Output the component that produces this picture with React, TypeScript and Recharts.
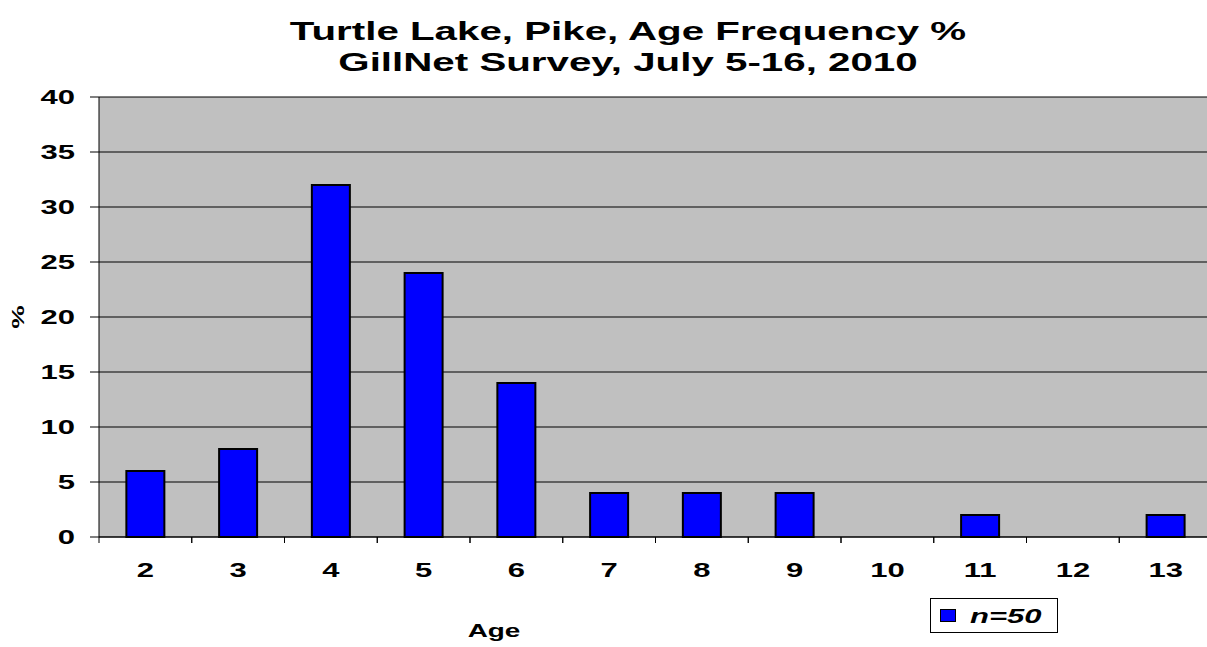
import React from 'react';
import { BarChart, Bar, XAxis, YAxis, CartesianGrid, Legend } from 'recharts';

const ages = ['2', '3', '4', '5', '6', '7', '8', '9', '10', '11', '12', '13'];
const percents = [6, 8, 32, 24, 14, 4, 4, 4, 0, 2, 0, 2];
const pctTicks = [0, 5, 10, 15, 20, 25, 30, 35, 40];
const titleLines = ['Turtle Lake, Pike, Age Frequency %', 'GillNet Survey, July 5-16, 2010'];
const seriesName = 'n=50';
const xTitle = 'Age';
const yTitle = '%';

const data = ages.map((age, i) => ({ age, pct: percents[i] }));

const FONT = '"Liberation Sans", Arial, Helvetica, sans-serif';
// the old spreadsheet export renders its text noticeably wide
const STRETCH = 1.55;

function WideText({ x, y, size, anchor = 'middle', rotate = 0, children }: any) {
  const rot = rotate ? ` rotate(${rotate})` : '';
  return (
    <text
      transform={`translate(${x},${y})${rot} scale(${STRETCH},1)`}
      textAnchor={anchor}
      fontFamily={FONT}
      fontWeight="bold"
      fontSize={size}
      fill="#000"
    >
      {children}
    </text>
  );
}

// category labels plus the tick marks between categories
function AgeTick(props: any) {
  const { x, y, payload, width, visibleTicksCount } = props;
  const half = payload.offset || width / visibleTicksCount / 2;
  return (
    <g>
      <line x1={x - half} x2={x - half} y1={y} y2={y + 6} stroke="#000" />
      <line x1={x + half} x2={x + half} y1={y} y2={y + 6} stroke="#000" />
      <WideText x={x} y={y + 40} size={20}>{payload.value}</WideText>
    </g>
  );
}

function PctTick(props: any) {
  const { x, y, payload } = props;
  return <WideText x={x} y={y + 7} size={20} anchor="end">{payload.value}</WideText>;
}

function SeriesKey({ payload }: any) {
  const item = payload && payload[0];
  return (
    <div
      style={{
        boxSizing: 'border-box',
        width: 128,
        height: 35,
        border: '1px solid #000',
        background: '#fff',
        display: 'flex',
        alignItems: 'center',
        paddingLeft: 9,
      }}
    >
      <span
        style={{
          boxSizing: 'border-box',
          width: 16,
          height: 13,
          background: item ? item.color : '#0000ff',
          border: '1px solid #000',
        }}
      />
      <span
        style={{
          display: 'inline-block',
          marginLeft: 14,
          fontFamily: FONT,
          fontWeight: 'bold',
          fontStyle: 'italic',
          fontSize: 20,
          lineHeight: '20px',
          transform: `scaleX(${STRETCH})`,
          transformOrigin: 'left center',
        }}
      >
        {item ? item.value : seriesName}
      </span>
    </div>
  );
}

export default function App() {
  return (
    <div
      style={{
        position: 'absolute',
        left: 0,
        top: 0,
        width: 1207,
        height: 647,
        overflow: 'hidden',
        background: '#fff',
      }}
    >
      <BarChart
        width={1230}
        height={647}
        data={data}
        margin={{ top: 97, right: 18, bottom: 50, left: 19 }}
        barCategoryGap="29.5%"
      >
        <CartesianGrid vertical={false} stroke="#000" fill="#c0c0c0" fillOpacity={1} />
        <XAxis
          dataKey="age"
          height={60}
          interval={0}
          axisLine={{ stroke: '#000' }}
          tickLine={false}
          tickSize={0}
          tickMargin={0}
          tick={<AgeTick />}
        />
        <YAxis
          width={80}
          domain={[0, 40]}
          ticks={pctTicks}
          interval={0}
          axisLine={{ stroke: '#000' }}
          tickLine={{ stroke: '#000' }}
          tickSize={9}
          tickMargin={15}
          tick={<PctTick />}
        />
        <Bar
          dataKey="pct"
          name={seriesName}
          fill="#0000ff"
          stroke="#000"
          strokeWidth={2}
          isAnimationActive={false}
        />
        <Legend
          layout="vertical"
          align="center"
          verticalAlign="middle"
          wrapperStyle={{ left: 930, top: 598, width: 128 }}
          content={<SeriesKey />}
        />
        <WideText x={628} y={40} size={26}>{titleLines[0]}</WideText>
        <WideText x={628} y={71} size={26}>{titleLines[1]}</WideText>
        <WideText x={494} y={637} size={18}>{xTitle}</WideText>
        <WideText x={24} y={317} size={17} rotate={-90}>{yTitle}</WideText>
      </BarChart>
    </div>
  );
}
